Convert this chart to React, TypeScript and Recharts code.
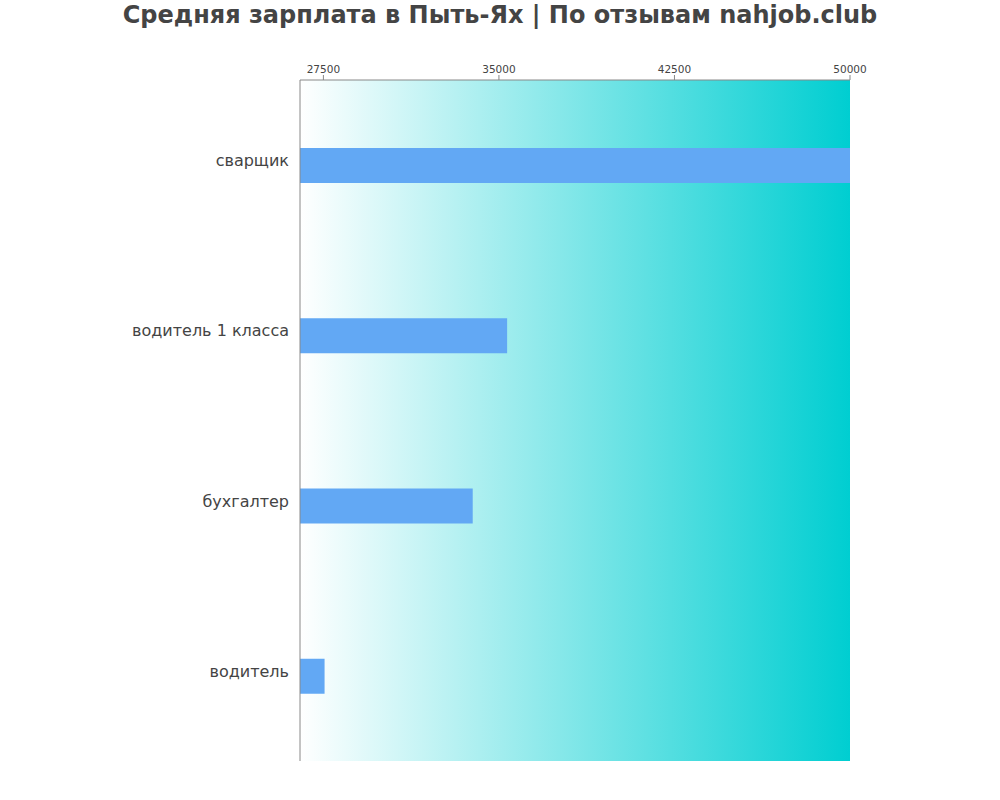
import React from "react";
import { BarChart, Bar, XAxis, YAxis, CartesianGrid } from "recharts";

const professions = ["сварщик", "водитель 1 класса", "бухгалтер", "водитель"];
const salaries = [50000, 35350, 33880, 27550];
const xTicks = [27500, 35000, 42500, 50000];
const xDomain = [26500, 50000];

const data = professions.map((name, i) => ({ name, value: salaries[i] }));

const FONT = "'DejaVu Sans', Verdana, sans-serif";
const TEXT = "#444444";
const AXIS = "#888888";

function CategoryTick({ x, y, payload }: any) {
  return (
    <text x={x} y={y} dy={1} textAnchor="end" fontSize={16} fill={TEXT} fontFamily={FONT}>
      {payload.value}
    </text>
  );
}

export default function App() {
  return (
    <div style={{ position: "absolute", left: 0, top: 0, width: 1000, height: 800, background: "#fff", fontFamily: FONT }}>
      <svg width={0} height={0} style={{ position: "absolute" }}>
        <defs>
          <linearGradient id="bgFade" x1="0" y1="0" x2="1" y2="0">
            <stop offset="0%" stopColor="#ffffff" />
            <stop offset="100%" stopColor="#00ced1" />
          </linearGradient>
        </defs>
      </svg>
      <div
        style={{
          position: "absolute",
          top: 1,
          left: 0,
          width: 1000,
          textAlign: "center",
          fontSize: 24,
          fontWeight: "bold",
          color: TEXT,
          whiteSpace: "nowrap",
        }}
      >
        Средняя зарплата в Пыть-Ях | По отзывам nahjob.club
      </div>
      <BarChart
        width={1000}
        height={800}
        data={data}
        layout="vertical"
        margin={{ top: 50, right: 150, bottom: 39, left: 100 }}
        barCategoryGap={0}
      >
        <CartesianGrid horizontal={false} vertical={false} fill="url(#bgFade)" />
        <XAxis
          type="number"
          orientation="top"
          domain={xDomain}
          ticks={xTicks}
          allowDataOverflow
          height={30}
          stroke={AXIS}
          tickSize={5}
          tickMargin={2}
          tick={{ fontSize: 10.5, fill: TEXT, fontFamily: FONT }}
        />
        <YAxis
          type="category"
          dataKey="name"
          width={200}
          stroke={AXIS}
          tickLine={false}
          tickSize={6}
          tickMargin={5}
          tick={<CategoryTick />}
        />
        <Bar dataKey="value" fill="#62a8f4" barSize={35} isAnimationActive={false} />
      </BarChart>
    </div>
  );
}
